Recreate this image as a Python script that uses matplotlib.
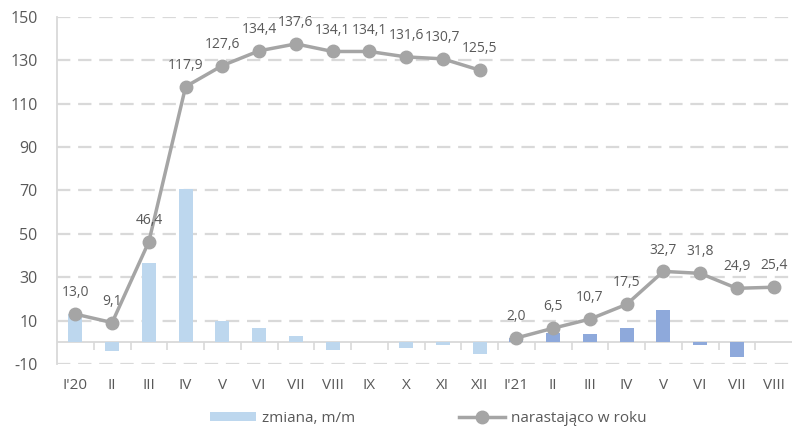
import matplotlib.pyplot as plt
import numpy as np

plt.rcParams["font.family"] = ["Open Sans", "DejaVu Sans"]
plt.rcParams["axes.unicode_minus"] = False

months = ["I'20", "II", "III", "IV", "V", "VI", "VII", "VIII", "IX", "X", "XI", "XII",
          "I'21", "II", "III", "IV", "V", "VI", "VII", "VIII"]

# month-on-month change (bars)
change_2020 = [12.9, -4.0, 36.8, 70.8, 9.7, 6.6, 2.8, -3.5, 0.0, -2.8, -1.4, -5.5]
change_2021 = [1.8, 4.3, 3.7, 6.7, 14.7, -1.4, -7.0, 0.0]

# cumulative since start of year (line)
ytd_2020 = [13.0, 9.1, 46.4, 117.9, 127.6, 134.4, 137.6, 134.1, 134.1, 131.6, 130.7, 125.5]
ytd_2021 = [2.0, 6.5, 10.7, 17.5, 32.7, 31.8, 24.9, 25.4]

yticks = [-10, 10, 30, 50, 70, 90, 110, 130, 150]

light_blue = "#BDD7EE"
dark_blue = "#8EA9DB"
line_grey = "#A5A5A5"
text_grey = "#595959"
grid_grey = "#D9D9D9"

fig = plt.figure(figsize=(7.92, 4.36), dpi=100)
ax = fig.add_axes([57 / 792, 1 - 364 / 436, 1 - 57 / 792, (364 - 17) / 436])

x20 = np.arange(len(change_2020))
x21 = np.arange(len(change_2020), len(months))

bars = ax.bar(x20, change_2020, width=0.38, color=light_blue, zorder=2)
ax.bar(x21, change_2021, width=0.38, color=dark_blue, zorder=2)

line, = ax.plot(x20, ytd_2020, color=line_grey, lw=2.5, marker="o", ms=9, zorder=3)
ax.plot(x21, ytd_2021, color=line_grey, lw=2.5, marker="o", ms=9, zorder=3)

for xs, ys in ((x20, ytd_2020), (x21, ytd_2021)):
    for xi, yi in zip(xs, ys):
        ax.annotate(f"{yi:.1f}".replace(".", ","), (xi, yi), xytext=(0, 10),
                    textcoords="offset points", ha="center", va="bottom",
                    fontsize=10, color=text_grey)

ax.set_xlim(-0.5, len(months) - 0.5)
ax.set_ylim(-10, 150)
ax.set_yticks(yticks)
ax.set_xticks(np.arange(len(months)))
ax.set_xticklabels(months)
ax.tick_params(axis="x", length=0, pad=10, labelsize=11, labelcolor=text_grey)
ax.tick_params(axis="y", length=0, pad=14, labelsize=11.5, labelcolor=text_grey)

for t in yticks:
    ax.axhline(t, color=grid_grey, lw=1.6, ls=(0, (6, 3.5)), zorder=1)
ax.axhline(0, color=grid_grey, lw=1.3, zorder=1)

for side in ("top", "right", "bottom"):
    ax.spines[side].set_visible(False)
ax.spines["left"].set_color(grid_grey)
ax.spines["left"].set_linewidth(1.3)

# small category separators hanging from the zero line
sec = ax.secondary_xaxis(10 / 160)
sec.set_xticks(np.arange(len(months) - 1) + 0.5)
sec.set_xticklabels([])
sec.tick_params(length=6, color=grid_grey, width=1.2, direction="out")
sec.spines["bottom"].set_visible(False)

fig.legend([bars, line], ["zmiana, m/m", "narastająco w roku"], loc="center left",
           bbox_to_anchor=(196 / 792, 0.041), ncol=2, frameon=False,
           fontsize=11, labelcolor=text_grey, columnspacing=6.8, handlelength=3.0,
           handleheight=0.5, handletextpad=0.4)

fig.savefig("out.png", dpi=100)
